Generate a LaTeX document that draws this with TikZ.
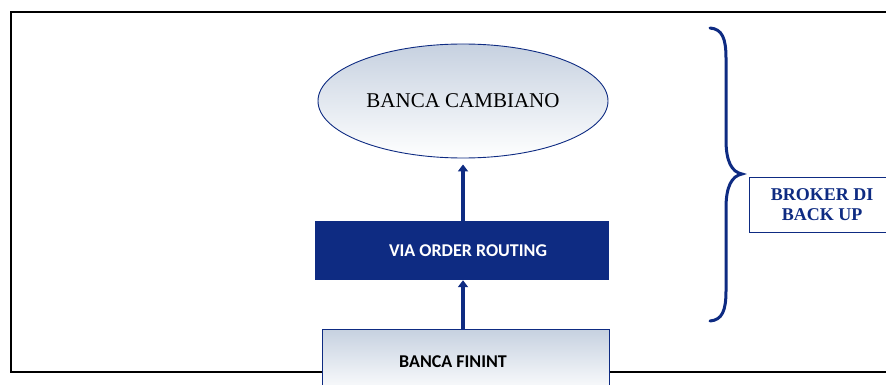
\documentclass[tikz,border=0pt]{standalone}
\usepackage{fontspec}
\setmainfont{Liberation Serif}
\newfontfamily\calibrifont{Carlito}
\usepackage{xcolor}
\usetikzlibrary{shapes.geometric, positioning, arrows.meta, calc}

\definecolor{bancanavy}{RGB}{14,43,130}
\definecolor{bancagrey}{RGB}{198,209,224}

\tikzset{
  flowarrow/.style={bancanavy, line width=3.5pt, -{Triangle[length=7pt, width=10pt]}},
  shadedbox/.style={draw=bancanavy, line width=0.9pt, top color=bancagrey, bottom color=white},
}

\begin{document}
\begin{tikzpicture}[x=1pt, y=-1pt]

      \useasboundingbox (0,0) rectangle (886,385);
      \clip (0,0) rectangle (886,385);

      % Outer frame
      \draw[black, line width=2pt] (11,12) rectangle (900,372);

      % Top bank
      \node[shadedbox, ellipse, minimum width=290pt, minimum height=114pt, inner sep=0pt,
            font=\fontsize{21}{25}\selectfont]
        (cambiano) at (463,101) {BANCA CAMBIANO};

      % Routing block
      \node[fill=bancanavy, rectangle, minimum width=294pt, minimum height=59pt, inner sep=0pt]
        (router) at (462,250.5) {};
      \node[text=white, font=\calibrifont\bfseries\fontsize{18}{22}\selectfont, inner sep=0pt]
        (routerlabel) at (468,250.5) {VIA ORDER ROUTING};

      % Bottom bank (runs past the lower edge)
      \node[shadedbox, rectangle, minimum width=287pt, minimum height=66pt, inner sep=0pt]
        (finint) at (465.5,362) {};
      \node[font=\calibrifont\bfseries\fontsize{18}{22}\selectfont, inner sep=0pt]
        (finintlabel) at (453,362) {BANCA FININT};

      % Arrows
      \draw[flowarrow] (finint.north -| 463,0) -- (router.south -| 463,0);
      \draw[flowarrow, shorten >=6pt] (router.north -| 463,0) -- (cambiano.south -| 463,0);

      % Curly brace
      \coordinate (bracetop) at (710,28);
      \coordinate (bracetip) at (742,174);
      \coordinate (bracebot) at (710,321);
      \draw[bancanavy, line width=3pt, line cap=round]
        (bracetop) .. controls (722,29) and (726,38) .. (726,58)
        -- (726,140) .. controls (726,162) and (732,172) .. (bracetip)
        .. controls (732,176) and (726,186) .. (726,208)
        -- (726,291) .. controls (726,311) and (722,320) .. (bracebot);

      % Back-up broker
      \node[draw=bancanavy, line width=0.9pt, rectangle, minimum width=146pt, minimum height=55pt,
            inner sep=0pt, align=center, text=bancanavy,
            font=\bfseries\fontsize{18}{20.5}\selectfont]
        (broker) at (822,204.5) {BROKER DI\\BACK UP};

\end{tikzpicture}
\end{document}
